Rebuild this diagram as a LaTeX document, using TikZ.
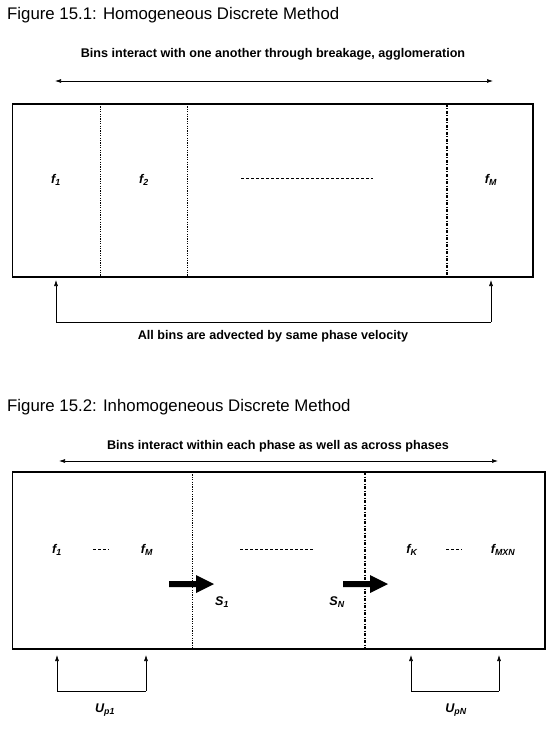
\documentclass[tikz,border=0pt]{standalone}
\usepackage{fontspec}
\setmainfont{Liberation Sans}
\usetikzlibrary{arrows.meta}
\newcommand\symsub[2]{#1\textsubscript{#2}}
\begin{document}
\begin{tikzpicture}[x=1pt,y=-1pt,
  lbl/.style={font=\bfseries\fontsize{12.6}{14}\selectfont, inner sep=0pt},
  ttl/.style={font=\fontsize{16.8}{19}\selectfont, inner sep=0pt, anchor=base west},
  sym/.style={font=\bfseries\itshape\fontsize{12.6}{14}\selectfont, inner sep=0pt},
  thinarrow/.style={-{Latex[length=6pt,width=4pt]}, line width=0.6pt},
  twoarrow/.style={{Latex[length=6pt,width=4pt]}-{Latex[length=6pt,width=4pt]}, line width=0.7pt},
  box/.style={draw, line width=1.8pt, inner sep=0pt},
  sepdot/.style={line width=0.6pt, dash pattern=on 1.2pt off 1.2pt},
  sepdashdot/.style={line width=1.4pt, dash pattern=on 3pt off 1.5pt on 1pt off 1.5pt},
  middash/.style={line width=0.6pt, dash pattern=on 3pt off 2pt},
  fat/.style={fill=black, draw=none}
]
\useasboundingbox (0,0) rectangle (558,730);

% ---------- Figure 15.1 ----------
\node[ttl] (t1) at (7,20) {Figure 15.1: Homogeneous Discrete Method};
\node[lbl] (l1) at (273,54) {Bins interact with one another through breakage, agglomeration};
\coordinate (a1l) at (55,81);
\coordinate (a1r) at (493,81);
\draw[twoarrow] (a1l) -- (a1r);

\node[box, minimum width=520.5pt, minimum height=173pt] (R1) at (272.75,190.5) {};
\coordinate (d1t) at (100,104); \coordinate (d1b) at (100,277);
\coordinate (d2t) at (187,104); \coordinate (d2b) at (187,277);
\coordinate (d3t) at (447,104); \coordinate (d3b) at (447,277);
\draw[sepdot] (d1t) -- (d1b);
\draw[sepdot] (d2t) -- (d2b);
\draw[sepdashdot] (d3t) -- (d3b);

\node[sym] (f1) at (56,180) {\symsub{f}{1}};
\node[sym] (f2) at (144,180) {\symsub{f}{2}};
\node[sym] (fM) at (491,180) {\symsub{f}{M}};
\coordinate (m1l) at (241,178); \coordinate (m1r) at (373,178);
\draw[middash] (m1l) -- (m1r);

\coordinate (u1a) at (56,280); \coordinate (u1b) at (56,322);
\coordinate (u2a) at (491,280); \coordinate (u2b) at (491,322);
\draw[thinarrow] (u1b) -- (u1a);
\draw[thinarrow] (u2b) -- (u2a);
\draw[line width=0.6pt] (u1b) -- (u2b);
\node[lbl] (l2) at (273,336) {All bins are advected by same phase velocity};

% ---------- Figure 15.2 ----------
\node[ttl] (t2) at (7,411) {Figure 15.2: Inhomogeneous Discrete Method};
\node[lbl] (l3) at (278,446) {Bins interact within each phase as well as across phases};
\coordinate (a3l) at (59,461);
\coordinate (a3r) at (498,461);
\draw[twoarrow] (a3l) -- (a3r);

\node[box, minimum width=532.5pt, minimum height=177pt] (R2) at (278.75,560.5) {};
\coordinate (e1t) at (192,472); \coordinate (e1b) at (192,649);
\coordinate (e2t) at (365,472); \coordinate (e2b) at (365,649);
\draw[sepdot] (e1t) -- (e1b);
\draw[sepdashdot] (e2t) -- (e2b);

\node[sym] (g1) at (57,550) {\symsub{f}{1}};
\node[sym] (gM) at (147,550) {\symsub{f}{M}};
\node[sym] (gK) at (412,550) {\symsub{f}{K}};
\node[sym] (gMXN) at (503,550) {\symsub{f}{MXN}};
\coordinate (h1l) at (93,549); \coordinate (h1r) at (109,549);
\coordinate (h2l) at (240,549); \coordinate (h2r) at (314,549);
\coordinate (h3l) at (446,549); \coordinate (h3r) at (462,549);
\draw[middash] (h1l) -- (h1r);
\draw[middash] (h2l) -- (h2r);
\draw[middash] (h3l) -- (h3r);

% thick flux arrows
\fill[fat] (169,581) -- (196,581) -- (196,575) -- (214,584) -- (196,593) -- (196,587) -- (169,587) -- cycle;
\fill[fat] (343,581) -- (370,581) -- (370,575) -- (388,584) -- (370,593) -- (370,587) -- (343,587) -- cycle;
\node[sym] (s1) at (222,602) {\symsub{S}{1}};
\node[sym] (sN) at (337,602) {\symsub{S}{N}};

\coordinate (v1a) at (57,655); \coordinate (v1b) at (57,691);
\coordinate (v2a) at (146,655); \coordinate (v2b) at (146,691);
\coordinate (v3a) at (411,655); \coordinate (v3b) at (411,691);
\coordinate (v4a) at (499,655); \coordinate (v4b) at (499,691);
\draw[thinarrow] (v1b) -- (v1a);
\draw[thinarrow] (v2b) -- (v2a);
\draw[line width=0.6pt] (v1b) -- (v2b);
\draw[thinarrow] (v3b) -- (v3a);
\draw[thinarrow] (v4b) -- (v4a);
\draw[line width=0.6pt] (v3b) -- (v4b);
\node[sym] (up1) at (105,710) {\symsub{U}{p1}};
\node[sym] (upN) at (456,710) {\symsub{U}{pN}};
\end{tikzpicture}
\end{document}
